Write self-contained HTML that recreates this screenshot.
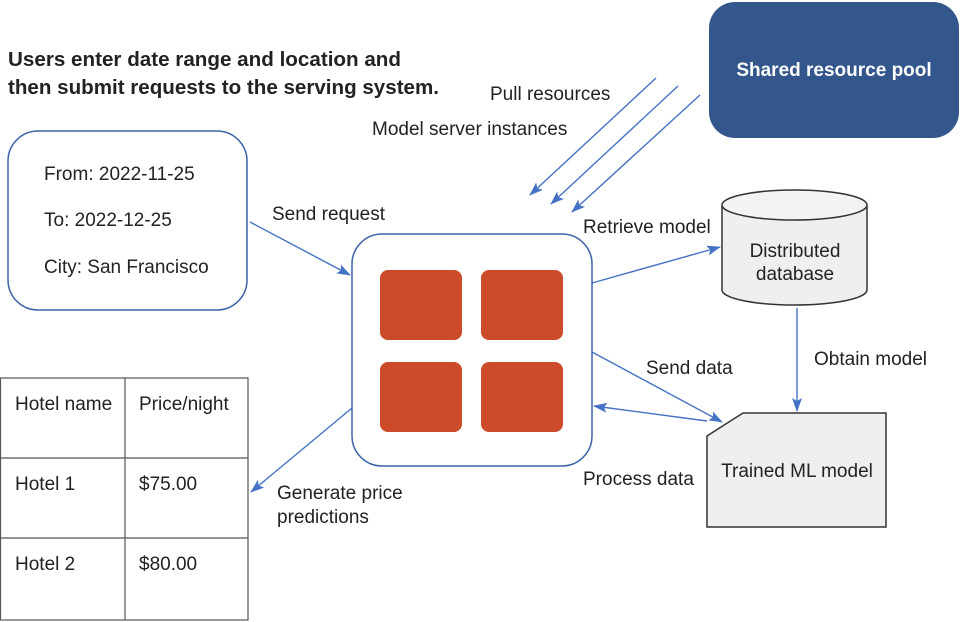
<!DOCTYPE html>
<html><head><style>
html,body{margin:0;padding:0;background:#fff;}
svg{display:block;font-family:"Liberation Sans",Arial,sans-serif;}
</style></head><body>
<svg width="961" height="622" viewBox="0 0 961 622" xmlns="http://www.w3.org/2000/svg">
<defs>
<marker id="a" markerWidth="14" markerHeight="10" refX="13" refY="5" orient="auto" markerUnits="userSpaceOnUse" viewBox="0 0 14 10">
<path d="M0,0 L14,5 L0,10 L3,5 Z" fill="#4472c4"/></marker>
</defs>
<text x="8" y="66" font-size="20" font-weight="bold" fill="#222" textLength="393" lengthAdjust="spacingAndGlyphs">Users enter date range and location and</text>
<text x="8" y="94" font-size="20" font-weight="bold" fill="#222" textLength="431" lengthAdjust="spacingAndGlyphs">then submit requests to the serving system.</text>

<rect x="709" y="2" width="250" height="136" rx="26" fill="#33568c"/>
<text x="834" y="76" font-size="19" font-weight="bold" fill="#fff" text-anchor="middle">Shared resource pool</text>

<g stroke="#4472c4" stroke-width="1.4" fill="none">
<line x1="656" y1="78" x2="530" y2="195" marker-end="url(#a)"/>
<line x1="678" y1="86" x2="551" y2="204" marker-end="url(#a)"/>
<line x1="700" y1="95" x2="572" y2="212" marker-end="url(#a)"/>
<line x1="250" y1="222" x2="350" y2="275" marker-end="url(#a)"/>
<line x1="592" y1="283" x2="720" y2="247" marker-end="url(#a)"/>
<line x1="797" y1="308" x2="797" y2="411" marker-end="url(#a)"/>
<line x1="592" y1="352" x2="722" y2="422" marker-end="url(#a)"/>
<line x1="707" y1="421" x2="594" y2="406" marker-end="url(#a)"/>
<line x1="352" y1="408" x2="251" y2="492" marker-end="url(#a)"/>
</g>

<g font-size="19" fill="#222">
<text x="490" y="100">Pull resources</text>
<text x="372" y="135">Model server instances</text>
<text x="272" y="220">Send request</text>
<text x="583" y="233">Retrieve model</text>
<text x="814" y="365">Obtain model</text>
<text x="646" y="374">Send data</text>
<text x="583" y="485">Process data</text>
<text x="277" y="499">Generate price</text>
<text x="277" y="523">predictions</text>
</g>

<rect x="8" y="131" width="239" height="179" rx="30" fill="#fff" stroke="#3a63a8" stroke-width="1.5"/>
<g font-size="19" fill="#222">
<text x="44" y="180">From: 2022-11-25</text>
<text x="44" y="226">To: 2022-12-25</text>
<text x="44" y="273">City: San Francisco</text>
</g>

<rect x="352" y="234" width="240" height="232" rx="30" fill="#fff" stroke="#3a63a8" stroke-width="1.5"/>
<g fill="#cc4b2b">
<rect x="380" y="270" width="82" height="70" rx="8"/>
<rect x="481" y="270" width="82" height="70" rx="8"/>
<rect x="380" y="362" width="82" height="70" rx="8"/>
<rect x="481" y="362" width="82" height="70" rx="8"/>
</g>

<path d="M722,205 L722,290 A72.5,15 0 0 0 867,290 L867,205" fill="#eeefef" stroke="#333" stroke-width="1.5"/>
<ellipse cx="794.5" cy="205" rx="72.5" ry="15" fill="#f3f3f3" stroke="#333" stroke-width="1.5"/>
<text x="795" y="257" font-size="19" fill="#222" text-anchor="middle">Distributed</text>
<text x="795" y="280" font-size="19" fill="#222" text-anchor="middle">database</text>

<path d="M707,436 L743,413 L886,413 L886,527 L707,527 Z" fill="#eeefef" stroke="#333" stroke-width="1.5"/>
<text x="797" y="477" font-size="19" fill="#222" text-anchor="middle">Trained ML model</text>

<g stroke="#555" stroke-width="1.2" fill="none">
<rect x="0.5" y="378" width="247.5" height="242"/>
<line x1="125" y1="378" x2="125" y2="620"/>
<line x1="0" y1="458" x2="248" y2="458"/>
<line x1="0" y1="538" x2="248" y2="538"/>
</g>
<g font-size="19" fill="#222">
<text x="15" y="410">Hotel name</text>
<text x="139" y="410">Price/night</text>
<text x="15" y="490">Hotel 1</text>
<text x="139" y="490">$75.00</text>
<text x="15" y="570">Hotel 2</text>
<text x="139" y="570">$80.00</text>
</g>
</svg>
</body></html>
